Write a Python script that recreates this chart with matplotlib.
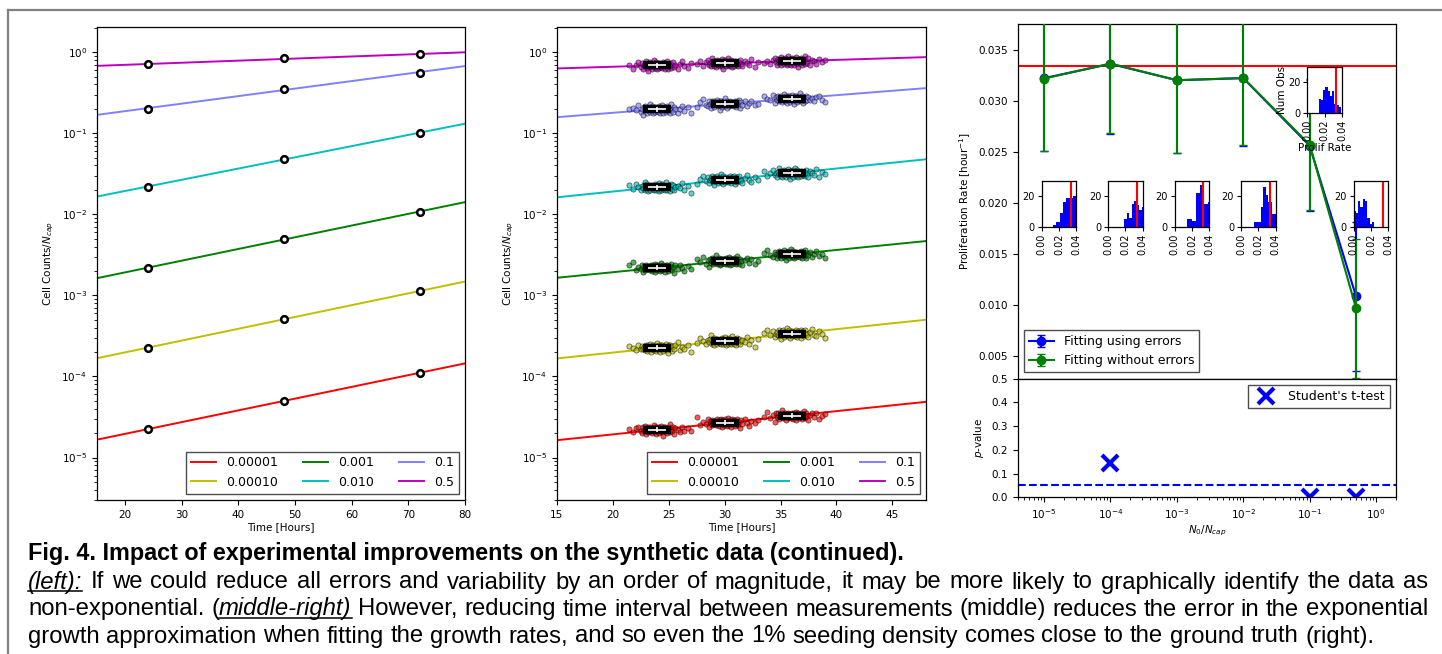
import numpy as np
import matplotlib
matplotlib.use("Agg")
import matplotlib.pyplot as plt
from matplotlib.lines import Line2D
from matplotlib.font_manager import FontProperties
from matplotlib.ticker import FormatStrFormatter

# ---------------- data ----------------
N0_LABELS = ["0.00001", "0.00010", "0.001", "0.010", "0.1", "0.5"]
N0_VALUES = [1e-5, 1e-4, 1e-3, 1e-2, 1e-1, 0.5]

LEFT_TIMES = [24, 48, 72]
LEFT_RED = [2.24e-5, 5.0e-5, 1.11e-4]
LEFT_YELLOW = [2.26e-4, 5.1e-4, 1.13e-3]
LEFT_GREEN = [2.19e-3, 4.9e-3, 1.08e-2]
LEFT_CYAN = [0.0219, 0.0478, 0.101]
LEFT_BLUE = [0.200, 0.353, 0.557]
LEFT_MAGENTA = [0.705, 0.843, 0.937]

MID_TIMES = [24, 30, 36]
MID_RED = [2.20e-5, 2.70e-5, 3.27e-5]
MID_YELLOW = [2.26e-4, 2.73e-4, 3.37e-4]
MID_GREEN = [2.19e-3, 2.65e-3, 3.20e-3]
MID_CYAN = [0.0216, 0.0268, 0.0320]
MID_BLUE = [0.197, 0.230, 0.266]
MID_MAGENTA = [0.685, 0.730, 0.770]

# scatter of replicate measurements around each mean (hours, decades)
JIT_DX = [-2.5, -2.2, -1.9, -1.7, -1.5, -1.4, -1.3, -1.2, -1.15, -1.1,
          -1.0, -0.95, -0.9, -0.85, -0.8, -0.7, -0.65, -0.6, -0.5, -0.45,
          -0.4, -0.35, -0.3, -0.25, -0.2, -0.15, -0.1, -0.05, 0.0, 0.05,
          0.1, 0.15, 0.2, 0.25, 0.3, 0.35, 0.4, 0.45, 0.5, 0.6,
          0.65, 0.7, 0.8, 0.85, 0.9, 0.95, 1.0, 1.1, 1.15, 1.2,
          1.3, 1.4, 1.5, 1.6, 1.8, 2.0, 2.2, 2.4, 2.7, 3.0]
JIT_DY = [0.01, -0.03, 0.02, 0.04, -0.01, -0.04, 0.03, 0.0, -0.02, 0.05,
          -0.05, 0.02, -0.01, 0.03, -0.03, 0.01, 0.04, -0.02, 0.0, -0.04,
          0.02, 0.06, -0.01, -0.03, 0.03, 0.0, -0.05, 0.01, 0.04, -0.02,
          0.03, -0.04, 0.0, 0.02, -0.01, 0.05, -0.03, 0.01, -0.07, 0.03,
          -0.02, 0.04, 0.0, -0.04, 0.02, -0.01, 0.03, 0.07, -0.03, 0.01,
          -0.02, 0.04, -0.05, 0.02, 0.0, -0.03, 0.03, -0.01, 0.02, -0.02]

RATE_WITH_ERR = [0.0322, 0.0336, 0.0320, 0.0322, 0.0256, 0.01086]
RATE_WITH_ERR_SD = [0.0071, 0.0069, 0.0071, 0.0066, 0.0064, 0.0073]
RATE_NO_ERR = [0.03216, 0.03363, 0.0320, 0.03222, 0.0257, 0.0097]
RATE_NO_ERR_SD = [0.0071, 0.0068, 0.0071, 0.0066, 0.0064, 0.0068]
TRUE_RATE = 0.0334
P_VALUES = [np.nan, 0.143, np.nan, np.nan, 0.002, 0.002]

HIST_START = [0.0128, 0.0183, 0.0148, 0.0155, 0.0131, -0.0005]
HIST_WIDTH = [0.0039, 0.0029, 0.0048, 0.0026, 0.00258, 0.0027]
HIST_COUNTS = [
    [1, 3, 9, 16, 19, 19, 20],
    [5, 9, 6, 15, 17, 14, 11, 13],
    [5, 4, 22, 27, 15, 16],
    [3, 3, 3, 13, 26, 21, 16, 16, 8, 8],
    [9, 8, 15, 17, 14, 11, 14, 6, 5, 4],
    [10, 9, 17, 13, 18, 17, 6, 2, 3],
]

CAPTION_TITLE = "Fig. 4. Impact of experimental improvements on the synthetic data (continued)."
CAPTION_LINES = [
    [("(left):", "italic", True),
     (" If we could reduce all errors and variability by an order of magnitude, it may be more likely to graphically identify the data as", "normal", False)],
    [("non-exponential. (", "normal", False), ("middle-right)", "italic", True),
     (" However, reducing time interval between measurements (middle) reduces the error in the exponential", "normal", False)],
    [("growth approximation when fitting the growth rates, and so even the 1% seeding density comes close to the ground truth (right).", "normal", False)],
]

# ---------------- style ----------------
COLORS = ["r", "y", "g", "c", "#8080ff", "m"]
plt.rcParams["font.size"] = 7.5
plt.rcParams["axes.linewidth"] = 0.9

W, H = 1442, 654
fig = plt.figure(figsize=(W / 100, H / 100), dpi=100)


def px_axes(x0, y0, x1, y1, **kw):
    return fig.add_axes([x0 / W, 1 - y1 / H, (x1 - x0) / W, (y1 - y0) / H], **kw)


left_series = [LEFT_RED, LEFT_YELLOW, LEFT_GREEN, LEFT_CYAN, LEFT_BLUE, LEFT_MAGENTA]
mid_series = [MID_RED, MID_YELLOW, MID_GREEN, MID_CYAN, MID_BLUE, MID_MAGENTA]

# ---------------- left panel ----------------
axL = px_axes(96.7, 27, 465, 500)
tt = np.array([15.0, 80.0])
for i, ys in enumerate(left_series):
    coef = np.polyfit(LEFT_TIMES, np.log10(ys), 1)
    axL.plot(tt, 10 ** np.polyval(coef, tt), color=COLORS[i], lw=1.4, label=N0_LABELS[i])
    axL.plot(LEFT_TIMES, ys, "o", mfc="w", mec="k", mew=1.8, ms=4.8, zorder=4)
axL.set_yscale("log")
axL.set_xlim(15, 80)
axL.set_ylim(3e-6, 2.04)
axL.set_xticks([20, 30, 40, 50, 60, 70, 80])
axL.set_xlabel("Time [Hours]", labelpad=2)
axL.set_ylabel("Cell Counts/$N_{cap}$")
axL.legend(loc="lower right", ncol=3, fontsize=9, fancybox=False, edgecolor="0.3", framealpha=1)

# ---------------- middle panel ----------------
axM = px_axes(556.7, 27, 926, 500)
tm = np.array([15.0, 48.0])
dx = np.array(JIT_DX)
dy = np.array(JIT_DY)
for i, ys in enumerate(mid_series):
    coef = np.polyfit(MID_TIMES, np.log10(ys), 1)
    axM.plot(tm, 10 ** np.polyval(coef, tm), color=COLORS[i], lw=1.4, label=N0_LABELS[i], zorder=2)
    for j, (t, m) in enumerate(zip(MID_TIMES, ys)):
        sx = t + dx
        sy = m * 10 ** np.roll(dy, (7 * i + 13 * j) % len(dy))
        axM.scatter(sx, sy, s=14, c=COLORS[i], alpha=0.65, edgecolors="k", linewidths=0.5, zorder=3)
        axM.errorbar([t], [m], xerr=1.25, fmt="none", ecolor="k", elinewidth=6, zorder=4)
        axM.errorbar([t], [m], xerr=0.8, yerr=[[m * 0.07], [m * 0.07]], fmt="none", ecolor="w",
                     elinewidth=1.2, zorder=5)
axM.set_yscale("log")
axM.set_xlim(15, 48)
axM.set_ylim(3e-6, 2.04)
axM.set_xticks([15, 20, 25, 30, 35, 40, 45])
axM.set_xlabel("Time [Hours]", labelpad=2)
axM.set_ylabel("Cell Counts/$N_{cap}$")
axM.legend(loc="lower right", ncol=3, fontsize=9, fancybox=False, edgecolor="0.3", framealpha=1)

# ---------------- right panel ----------------
axR = px_axes(1017.7, 24, 1396, 378.7)
axP = px_axes(1017.7, 378.7, 1396, 497.3, sharex=axR)
axR.axhline(TRUE_RATE, color="r", lw=1.5, zorder=1)
axR.errorbar(N0_VALUES, RATE_WITH_ERR, yerr=RATE_WITH_ERR_SD, fmt="-o", color="b", capsize=3,
             ms=6, lw=1.5, label="Fitting using errors", zorder=2)
axR.errorbar(N0_VALUES, RATE_NO_ERR, yerr=RATE_NO_ERR_SD, fmt="-o", color="g", capsize=3,
             ms=6, lw=1.5, label="Fitting without errors", zorder=3)
axR.set_xscale("log")
axR.set_xlim(4e-6, 2)
axR.set_ylim(0.0028, 0.0375)
axR.set_yticks([0.005, 0.010, 0.015, 0.020, 0.025, 0.030, 0.035])
axR.yaxis.set_major_formatter(FormatStrFormatter("%.3f"))
axR.tick_params(axis="x", which="both", bottom=False, labelbottom=False)
axR.set_ylabel("Proliferation Rate [hour$^{-1}$]")
axR.legend(loc="lower left", fontsize=9, fancybox=False, edgecolor="0.3", framealpha=1)

axP.plot(N0_VALUES, P_VALUES, "x", color="b", ms=11, mew=3, label="Student's t-test")
axP.axhline(0.05, color="b", ls="--", lw=1.5)
axP.set_ylim(0, 0.5)
axP.set_yticks([0.0, 0.1, 0.2, 0.3, 0.4, 0.5])
axP.set_ylabel("$p$-value")
axP.set_xlabel("$N_0/N_{cap}$", labelpad=2)
axP.legend(loc="upper right", fontsize=9, fancybox=False, edgecolor="0.3", framealpha=1)

# histogram insets
fig.canvas.draw()
for k, xv in enumerate(N0_VALUES):
    xd = axR.transData.transform((xv, 0.02))[0]
    top = 66.7 if k == 4 else 180.7
    ax_in = fig.add_axes([(xd - 2.3) / W, 1 - (top + 46) / H, 34.6 / W, 46 / H])
    counts = np.array(HIST_COUNTS[k])
    edges = HIST_START[k] + HIST_WIDTH[k] * np.arange(len(counts) + 1)
    ax_in.bar(edges[:-1], counts, width=np.diff(edges), align="edge", color="b", lw=0)
    ax_in.axvline(TRUE_RATE, color="r", lw=1.5)
    ax_in.set_xlim(0, 0.04)
    ax_in.set_ylim(0, 30)
    ax_in.set_xticks([0.0, 0.02, 0.04])
    ax_in.set_xticklabels(["0.00", "0.02", "0.04"], rotation=90, fontsize=7)
    ax_in.set_yticks([0, 20])
    ax_in.tick_params(labelsize=7, length=3, pad=2)
    if k == 4:
        ax_in.set_ylabel("Num Obs", fontsize=7.5, labelpad=1)
        ax_in.set_xlabel("Prolif Rate", fontsize=7.5, labelpad=1)

# ---------------- frame ----------------
fig.add_artist(Line2D([7.5 / W, 1.0], [1 - 10 / H, 1 - 10 / H], color="0.5", lw=1.6,
                      transform=fig.transFigure))
fig.add_artist(Line2D([7.5 / W, 7.5 / W], [0.0, 1 - 10 / H], color="0.5", lw=1.6,
                      transform=fig.transFigure))

# ---------------- caption ----------------
renderer = fig.canvas.get_renderer()
FAM = "Liberation Sans"


def tw(s, style="normal", weight="normal", size=10.0):
    fp = FontProperties(family=FAM, style=style, weight=weight, size=size)
    return renderer.get_text_width_height_descent(s, fp, ismath=False)[0]


X0, X1 = 28.0, 1428.0
fs = 10.0 * (1381.0 - X0) / tw(CAPTION_LINES[2][0][0], size=10.0)
fsb = 10.0 * (906.0 - X0) / tw(CAPTION_TITLE, weight="bold", size=10.0)

fig.text(X0 / W, 1 - 560 / H, CAPTION_TITLE, family=FAM, weight="bold", size=fsb, va="baseline")

baselines = [588.5, 615.5, 642.5]
justify = [True, True, False]
for line, yb, jus in zip(CAPTION_LINES, baselines, justify):
    words = []
    cur = []
    for text, style, ul in line:
        parts = text.split(" ")
        for pi, p in enumerate(parts):
            if pi > 0 and cur:
                words.append(cur)
                cur = []
            if p:
                cur.append((p, style, ul))
    if cur:
        words.append(cur)
    widths = [[tw(p, st, size=fs) for p, st, u in wd] for wd in words]
    total = sum(sum(w) for w in widths)
    if jus:
        gap = (X1 - X0 - total) / (len(words) - 1)
    else:
        gap = tw("a a", size=fs) - tw("aa", size=fs)
    x = X0
    for wd, ws in zip(words, widths):
        for (p, st, u), w in zip(wd, ws):
            fig.text(x / W, 1 - yb / H, p, family=FAM, style=st, size=fs, va="baseline")
            if u:
                fig.add_artist(Line2D([x / W, (x + w) / W], [1 - (yb + 2.5) / H] * 2, color="k",
                                      lw=1.1, transform=fig.transFigure))
            x += w
        x += gap

fig.savefig("out.png", dpi=100)
